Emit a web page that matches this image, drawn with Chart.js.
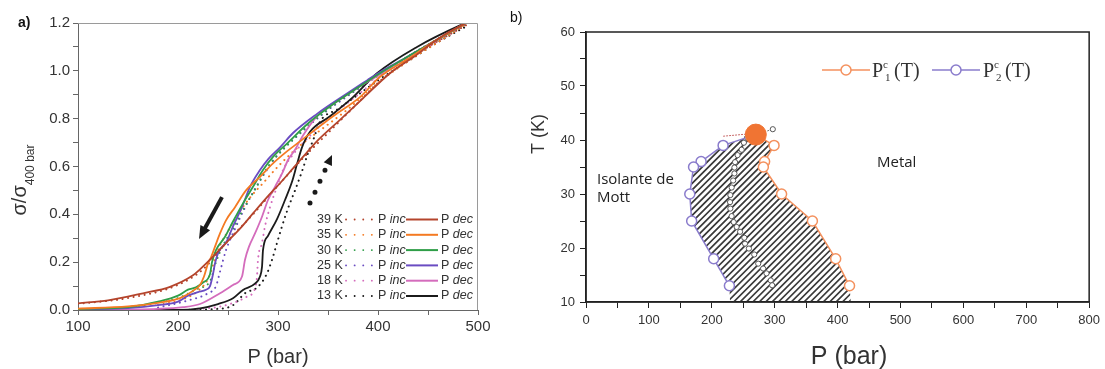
<!DOCTYPE html>
<html>
<head>
<meta charset="utf-8">
<script src="https://cdn.jsdelivr.net/npm/chart.js@4.4.1/dist/chart.umd.min.js"></script>
<style>
  body { margin: 0; background: #fff; width: 1105px; height: 369px; position: relative; overflow: hidden; }
  #condChart { position: absolute; left: 0; top: 0; }
  #phaseChart { position: absolute; left: 500px; top: 0; }
</style>
</head>
<body>
<canvas id="condChart" width="500" height="369"></canvas>
<canvas id="phaseChart" width="605" height="369"></canvas>
<script>
// ---------- a) normalised conductance vs pressure ----------
const temps = ['39 K', '35 K', '30 K', '25 K', '18 K', '13 K'];
const tempColors = ['#b4442c', '#f47a22', '#2f9e48', '#6a4cc2', '#d46cbc', '#1b1b1b'];

// [P (bar), sigma / sigma(400 bar)], pressure decreasing
const dec39 = [[100,0.028],[130,0.04],[165,0.07],[192,0.097],[215,0.145],[222,0.17],[235,0.223],[248,0.28],[262,0.34],[275,0.404],[288,0.467],[302,0.53],[315,0.592],[325,0.64],[340,0.71],[362,0.795],[385,0.885],[412,0.99],[438,1.065],[452,1.11],[470,1.16],[488,1.2]];
const dec35 = [[100,0.006],[150,0.015],[180,0.03],[202,0.05],[215,0.08],[222,0.105],[226,0.14],[230,0.195],[233,0.22],[237,0.265],[242,0.32],[248,0.375],[257,0.43],[268,0.5],[282,0.557],[295,0.613],[308,0.66],[322,0.705],[355,0.81],[382,0.89],[402,0.975],[430,1.05],[455,1.12],[488,1.2]];
const dec30 = [[100,0.004],[150,0.012],[180,0.035],[200,0.06],[210,0.085],[218,0.095],[225,0.115],[232,0.15],[234,0.2],[238,0.25],[247,0.306],[255,0.37],[265,0.446],[275,0.515],[285,0.585],[295,0.64],[310,0.7],[330,0.78],[355,0.86],[380,0.93],[400,0.985],[430,1.06],[455,1.12],[488,1.2]];
const dec25 = [[100,0.002],[150,0.008],[180,0.02],[200,0.035],[210,0.06],[220,0.075],[228,0.085],[232,0.1],[235,0.15],[237,0.195],[240,0.237],[249,0.29],[255,0.35],[264,0.43],[272,0.515],[282,0.585],[290,0.63],[302,0.68],[315,0.74],[339,0.82],[369,0.905],[389,0.96],[400,0.99],[430,1.06],[455,1.12],[488,1.2]];
const dec18 = [[100,0.0],[180,0.005],[205,0.012],[222,0.025],[242,0.07],[255,0.105],[264,0.14],[267,0.21],[271,0.265],[277,0.32],[284,0.39],[290,0.46],[297,0.515],[304,0.57],[310,0.627],[317,0.67],[325,0.73],[339,0.81],[355,0.86],[380,0.93],[400,0.98],[430,1.06],[455,1.12],[488,1.2]];
const dec13 = [[100,0.0],[200,0.0],[222,0.007],[240,0.025],[255,0.049],[265,0.084],[277,0.11],[282,0.14],[284,0.18],[285,0.25],[290,0.31],[299,0.38],[307,0.46],[314,0.536],[319,0.61],[324,0.68],[332,0.745],[352,0.81],[375,0.89],[399,0.99],[439,1.1],[482,1.19],[488,1.2]];

// pressure increasing
const inc39 = [[100,0.026],[150,0.05],[200,0.105],[225,0.17],[250,0.29],[275,0.4],[300,0.52],[325,0.635],[350,0.74],[375,0.845],[400,0.95],[425,1.03],[450,1.1],[475,1.16],[492,1.2]];
const inc35 = [[180,0.02],[205,0.045],[220,0.08],[230,0.13],[236,0.2],[242,0.27],[250,0.33],[260,0.4],[272,0.47],[285,0.53],[300,0.6],[320,0.68],[345,0.76],[370,0.84],[400,0.95],[430,1.04],[460,1.12],[490,1.2]];
const inc30 = [[150,0.01],[200,0.05],[220,0.09],[232,0.12],[238,0.2],[245,0.27],[255,0.34],[265,0.42],[278,0.51],[290,0.6],[305,0.67],[330,0.77],[360,0.87],[400,0.98],[450,1.11],[490,1.2]];
const inc25 = [[180,0.01],[210,0.04],[230,0.07],[238,0.1],[242,0.16],[248,0.25],[256,0.33],[266,0.42],[276,0.5],[288,0.58],[300,0.65],[320,0.73],[345,0.82],[375,0.91],[400,0.98],[450,1.11],[490,1.2]];
const inc18 = [[220,0.005],[242,0.014],[269,0.056],[277,0.09],[279,0.14],[280,0.21],[284,0.28],[287,0.35],[292,0.43],[299,0.515],[305,0.585],[315,0.65],[330,0.72],[350,0.8],[380,0.9],[410,1.0],[450,1.1],[490,1.2]];
const inc13 = [[200,0.0],[240,0.005],[255,0.02],[267,0.07],[280,0.097],[289,0.153],[294,0.21],[299,0.28],[304,0.35],[310,0.425],[317,0.5],[324,0.58],[330,0.655],[336,0.72],[342,0.787],[360,0.84],[380,0.9],[400,0.96],[430,1.04],[460,1.12],[490,1.19]];

const decSeries = [dec39, dec35, dec30, dec25, dec18, dec13];
const incSeries = [inc39, inc35, inc30, inc25, inc18, inc13];

// sweep direction arrows, [P, sigma] tail -> head
const arrowDec = [[244, 0.472], [221, 0.297]];
const arrowInc = [[332, 0.447], [354, 0.648]];

// ---------- b) phase diagram ----------
const p1Curve = [[270,41],[299,39],[284,36],[282,35],[311,30],[360,25],[397,18],[419,13]];
const p2Curve = [[270,41],[218,39],[183,36],[171,35],[165,30],[168,25],[203,18],[228,13]];
const criticalPoint = [[270,41]];
const hatchBase = [[229,10],[421,10]];
const midChain = [[256,40.4],[251,39.5],[247.5,38.2],[241,37.2],[237,35.9],[236,34.9],[236,33.8],[234,32.5],[231.6,31.2],[229.5,29.8],[229,28.5],[229.5,27.3],[231.6,25.9],[234.8,24.8],[239.5,23.9],[245,23],[251.7,21.9],[252.8,20.8],[259,19.9],[267.5,18.8],[273.8,17.1],[281.7,16.2],[287,15.3],[293.8,14],[296,13.1]];
const chainTip = [[270,41],[297,42]];
const redTrace = [[218,40.7],[256,41.1]];

const xy = arr => arr.map(([x, y]) => ({ x, y }));
const SANS = '"Liberation Sans", Arial, sans-serif';
Chart.defaults.font.family = SANS;

// ---------- chart a ----------
const condDatasets = [];
decSeries.forEach((s, i) => {
  condDatasets.push({
    data: xy(s), borderColor: tempColors[i], borderWidth: 1.8,
    pointRadius: 0, cubicInterpolationMode: 'monotone'
  });
});
incSeries.forEach((s, i) => {
  condDatasets.push({
    data: xy(s), borderColor: tempColors[i], borderWidth: 2,
    borderDash: [0.1, 5.5], borderCapStyle: 'round',
    pointRadius: 0, cubicInterpolationMode: 'monotone'
  });
});

function arrowHead(ctx, x0, y0, x1, y1, len, half) {
  const ang = Math.atan2(y1 - y0, x1 - x0);
  ctx.beginPath();
  ctx.moveTo(x1, y1);
  ctx.lineTo(x1 - len * Math.cos(ang) + half * Math.sin(ang), y1 - len * Math.sin(ang) - half * Math.cos(ang));
  ctx.lineTo(x1 - len * Math.cos(ang) - half * Math.sin(ang), y1 - len * Math.sin(ang) + half * Math.cos(ang));
  ctx.closePath();
  ctx.fill();
}

const condDecor = {
  id: 'condDecor',
  afterDatasetsDraw(chart) {
    const { ctx, scales: { x, y } } = chart;
    ctx.save();
    ctx.fillStyle = '#1a1a1a';
    ctx.strokeStyle = '#1a1a1a';
    // solid arrow (decreasing pressure)
    let [a, b] = arrowDec.map(([p, s]) => [x.getPixelForValue(p), y.getPixelForValue(s)]);
    let ang = Math.atan2(b[1] - a[1], b[0] - a[0]);
    ctx.lineWidth = 4;
    ctx.beginPath();
    ctx.moveTo(a[0], a[1]);
    ctx.lineTo(b[0] - 10 * Math.cos(ang), b[1] - 10 * Math.sin(ang));
    ctx.stroke();
    arrowHead(ctx, a[0], a[1], b[0], b[1], 13, 5.5);
    // dotted arrow (increasing pressure)
    [a, b] = arrowInc.map(([p, s]) => [x.getPixelForValue(p), y.getPixelForValue(s)]);
    ang = Math.atan2(b[1] - a[1], b[0] - a[0]);
    ctx.lineWidth = 5;
    ctx.lineCap = 'round';
    ctx.setLineDash([0, 12]);
    ctx.beginPath();
    ctx.moveTo(a[0], a[1]);
    ctx.lineTo(b[0] - 9 * Math.cos(ang), b[1] - 9 * Math.sin(ang));
    ctx.stroke();
    ctx.setLineDash([]);
    arrowHead(ctx, a[0], a[1], b[0], b[1], 10, 4.5);
    ctx.restore();
  },
  afterDraw(chart) {
    const { ctx, chartArea: ca } = chart;
    ctx.save();
    // box on top and right
    ctx.strokeStyle = '#9a9a9a';
    ctx.lineWidth = 1;
    ctx.beginPath();
    ctx.moveTo(ca.left, ca.top + 0.5);
    ctx.lineTo(ca.right - 0.5, ca.top + 0.5);
    ctx.lineTo(ca.right - 0.5, ca.bottom);
    ctx.stroke();

    // legend
    const rowY0 = 219.5, rowDy = 15.3;
    ctx.textBaseline = 'middle';
    temps.forEach((t, i) => {
      const yy = rowY0 + i * rowDy;
      ctx.fillStyle = '#333';
      ctx.font = '12.5px ' + SANS;
      ctx.fillText(t, 317, yy);
      ctx.strokeStyle = tempColors[i];
      ctx.lineWidth = 1.8;
      ctx.lineCap = 'round';
      ctx.setLineDash([0.1, 8.5]);
      ctx.beginPath(); ctx.moveTo(346, yy); ctx.lineTo(374, yy); ctx.stroke();
      ctx.setLineDash([]);
      ctx.lineCap = 'butt';
      ctx.lineWidth = 2;
      ctx.beginPath(); ctx.moveTo(406, yy); ctx.lineTo(438, yy); ctx.stroke();
      ctx.fillStyle = '#333';
      ctx.fillText('P ', 378, yy);
      let w = ctx.measureText('P ').width;
      ctx.font = 'italic 12.5px ' + SANS;
      ctx.fillText('inc', 378 + w, yy);
      ctx.font = '12.5px ' + SANS;
      ctx.fillText('P ', 441, yy);
      w = ctx.measureText('P ').width;
      ctx.font = 'italic 12.5px ' + SANS;
      ctx.fillText('dec', 441 + w, yy);
    });

    // axis titles and panel letter
    ctx.fillStyle = '#333';
    ctx.textAlign = 'center';
    ctx.font = '20px ' + SANS;
    ctx.fillText('P (bar)', 278, 357);
    ctx.textAlign = 'left';
    ctx.fillStyle = '#111';
    ctx.font = 'bold 14px ' + SANS;
    ctx.fillText('a)', 18, 23);

    ctx.translate(26, 180);
    ctx.rotate(-Math.PI / 2);
    ctx.textBaseline = 'alphabetic';
    ctx.fillStyle = '#333';
    ctx.font = '20px ' + SANS;
    const w1 = ctx.measureText('σ/σ').width;
    ctx.font = '12px ' + SANS;
    const w2 = ctx.measureText('400 bar').width;
    const start = -(w1 + w2) / 2;
    ctx.font = '20px ' + SANS;
    ctx.fillText('σ/σ', start, 0);
    ctx.font = '12px ' + SANS;
    ctx.fillText('400 bar', start + w1, 7.5);
    ctx.restore();
  }
};

new Chart(document.getElementById('condChart'), {
  type: 'line',
  data: { datasets: condDatasets },
  options: {
    responsive: false,
    animation: false,
    layout: { padding: { left: 0, right: 22, top: 23, bottom: 0 } },
    plugins: { legend: { display: false }, tooltip: { enabled: false } },
    scales: {
      x: {
        type: 'linear', min: 100, max: 500,
        afterFit: s => { s.height = 59; },
        ticks: {
          stepSize: 50, autoSkip: false, maxRotation: 0, padding: 3,
          color: '#333', font: { size: 15 },
          callback: v => (v % 100 === 0 ? v : '')
        },
        grid: { drawOnChartArea: false, tickLength: 5, color: '#666' },
        border: { color: '#666', width: 1 }
      },
      y: {
        min: 0, max: 1.2,
        afterFit: s => { s.width = 78; },
        ticks: {
          stepSize: 0.1, autoSkip: false, padding: 3,
          color: '#333', font: { size: 15 },
          callback: v => (Math.round(v * 10) % 2 === 0 ? v.toFixed(1) : '')
        },
        grid: { drawOnChartArea: false, tickLength: 5, color: '#666' },
        border: { color: '#666', width: 1 }
      }
    }
  },
  plugins: [condDecor]
});

// ---------- chart b ----------
const orange = '#f4915e';
const purple = '#8a7ccc';

const phaseDecor = {
  id: 'phaseDecor',
  beforeDatasetsDraw(chart) {
    const { ctx, scales: { x, y } } = chart;
    // hatched coexistence region between the two boundaries
    const poly = [...p2Curve, ...hatchBase, ...p1Curve.slice().reverse()]
      .map(([p, t]) => [x.getPixelForValue(p), y.getPixelForValue(t)]);
    ctx.save();
    ctx.beginPath();
    poly.forEach(([px, py], i) => (i ? ctx.lineTo(px, py) : ctx.moveTo(px, py)));
    ctx.closePath();
    ctx.clip();
    const xs = poly.map(p => p[0]), ys = poly.map(p => p[1]);
    const minX = Math.min(...xs), maxX = Math.max(...xs);
    const minY = Math.min(...ys), maxY = Math.max(...ys);
    const h = maxY - minY;
    ctx.strokeStyle = '#3a3a3a';
    ctx.lineWidth = 1.7;
    ctx.beginPath();
    for (let c = minX - h; c < maxX; c += 6.4) {
      ctx.moveTo(c, maxY);
      ctx.lineTo(c + h, minY);
    }
    ctx.stroke();
    ctx.restore();
  },
  afterDraw(chart) {
    const { ctx, chartArea: ca } = chart;
    ctx.save();
    ctx.strokeStyle = '#222';
    ctx.lineWidth = 1.5;
    ctx.strokeRect(ca.left, ca.top, ca.right - ca.left, ca.bottom - ca.top);

    // legend P^c_1(T), P^c_2(T)
    const legY = 70;
    [[322, 370, orange, '1', 372], [432, 480, purple, '2', 483]].forEach(([x0, x1, col, sub, tx]) => {
      ctx.strokeStyle = col;
      ctx.lineWidth = 1.5;
      ctx.beginPath(); ctx.moveTo(x0, legY); ctx.lineTo(x1, legY); ctx.stroke();
      ctx.fillStyle = '#fff';
      ctx.beginPath(); ctx.arc((x0 + x1) / 2, legY, 5, 0, Math.PI * 2); ctx.fill(); ctx.stroke();
      ctx.fillStyle = '#333';
      ctx.textBaseline = 'alphabetic';
      ctx.font = '20px "Liberation Serif", serif';
      ctx.fillText('P', tx, legY + 7);
      const wp = ctx.measureText('P').width;
      ctx.font = '11px "Liberation Serif", serif';
      ctx.fillText('c', tx + wp, legY - 2);
      ctx.fillText(sub, tx + wp + 2, legY + 11);
      ctx.font = '20px "Liberation Serif", serif';
      ctx.fillText('(T)', tx + wp + 11, legY + 7);
    });

    // region labels
    ctx.fillStyle = '#222';
    ctx.textBaseline = 'middle';
    ctx.font = '15px "Open Sans", ' + SANS;
    ctx.fillText('Isolante de', 97, 180);
    ctx.fillText('Mott', 97, 198);
    ctx.fillText('Metal', 377, 163);

    // axis titles and panel letter
    ctx.fillStyle = '#333';
    ctx.textAlign = 'center';
    ctx.font = '25px ' + SANS;
    ctx.fillText('P (bar)', 349, 357);
    ctx.textAlign = 'left';
    ctx.fillStyle = '#111';
    ctx.font = '14px ' + SANS;
    ctx.fillText('b)', 10, 18);
    ctx.translate(39, 134);
    ctx.rotate(-Math.PI / 2);
    ctx.textAlign = 'center';
    ctx.fillStyle = '#333';
    ctx.font = '18px ' + SANS;
    ctx.fillText('T (K)', 0, 0);
    ctx.restore();
  }
};

new Chart(document.getElementById('phaseChart'), {
  type: 'line',
  data: {
    datasets: [
      { data: xy(criticalPoint), showLine: false, pointRadius: 10.5, pointBackgroundColor: '#f07433', pointBorderColor: '#f07433', pointBorderWidth: 1 },
      { data: xy(p1Curve), borderColor: orange, borderWidth: 1.5,
        pointRadius: ctx => (ctx.dataIndex === 0 ? 0 : 5), pointBorderColor: orange, pointBackgroundColor: '#fff', pointBorderWidth: 1.5 },
      { data: xy(p2Curve), borderColor: purple, borderWidth: 1.5,
        pointRadius: ctx => (ctx.dataIndex === 0 ? 0 : 5), pointBorderColor: purple, pointBackgroundColor: '#fff', pointBorderWidth: 1.5 },
      { data: xy(redTrace), borderColor: '#c86a6a', borderWidth: 1, borderDash: [2, 1], pointRadius: 0 },
      { data: xy(chainTip), borderColor: '#777', borderWidth: 1, borderDash: [2, 2],
        pointRadius: ctx => (ctx.dataIndex === 0 ? 0 : 2.6), pointBorderColor: '#555', pointBackgroundColor: '#fff', pointBorderWidth: 1 },
      { data: xy(midChain), showLine: false, pointRadius: 2.6, pointBorderColor: '#555', pointBackgroundColor: '#fff', pointBorderWidth: 1 }
    ]
  },
  options: {
    responsive: false,
    animation: false,
    layout: { padding: { left: 0, right: 12, top: 32, bottom: 0 } },
    plugins: { legend: { display: false }, tooltip: { enabled: false } },
    scales: {
      x: {
        type: 'linear', min: 0, max: 800,
        afterFit: s => { s.height = 67; },
        ticks: {
          stepSize: 50, autoSkip: false, maxRotation: 0, padding: 5,
          color: '#333', font: { size: 13 },
          callback: v => (v % 100 === 0 ? v : '')
        },
        grid: { drawOnChartArea: false, tickLength: 6, color: '#222' },
        border: { color: '#222', width: 1.5 }
      },
      y: {
        min: 10, max: 60,
        afterFit: s => { s.width = 86; },
        ticks: {
          stepSize: 5, autoSkip: false, padding: 5,
          color: '#333', font: { size: 13 },
          callback: v => (v % 10 === 0 ? v : '')
        },
        grid: { drawOnChartArea: false, tickLength: 6, color: '#222' },
        border: { color: '#222', width: 1.5 }
      }
    }
  },
  plugins: [phaseDecor]
});
</script>
</body>
</html>
